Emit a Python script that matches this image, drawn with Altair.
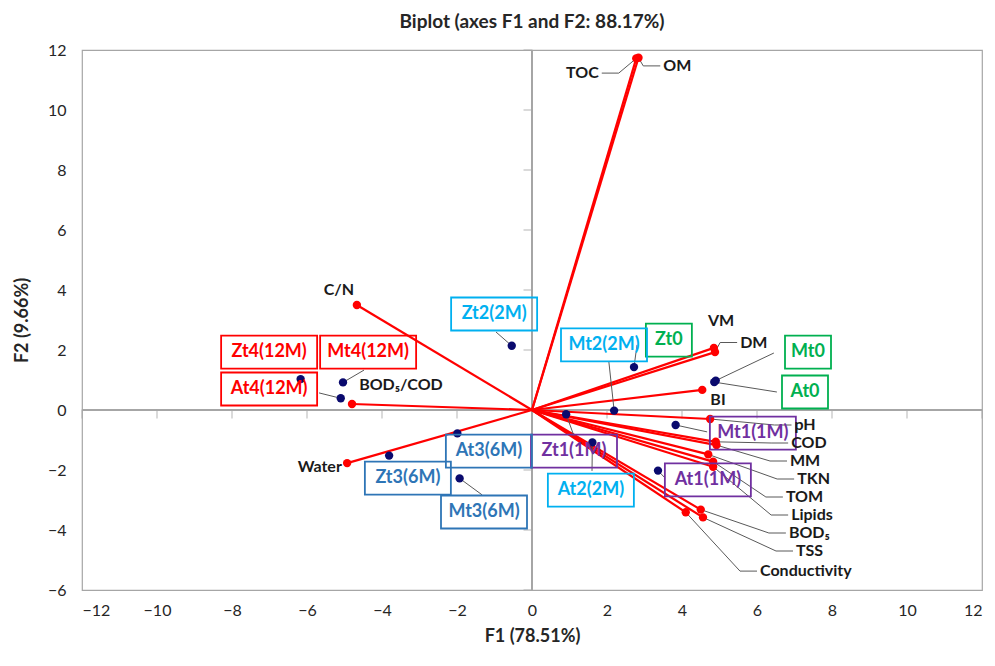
import altair as alt
import pandas as pd

# ---------------- data ----------------
var_names = ["TOC", "OM", "C/N", "BOD₅/COD", "Water", "VM", "DM", "BI", "pH", "COD",
             "MM", "TKN", "TOM", "Lipids", "BOD₅", "TSS", "Conductivity"]
var_f1 = [2.78, 2.84, -4.67, -4.80, -4.93, 4.85, 4.88, 4.54, 4.75, 4.90,
          4.92, 4.70, 4.83, 4.83, 4.50, 4.56, 4.10]
var_f2 = [11.72, 11.74, 3.50, 0.20, -1.77, 2.07, 1.93, 0.67, -0.30, -1.06,
          -1.17, -1.48, -1.72, -1.89, -3.32, -3.58, -3.41]
# label anchor positions (F1, F2) and alignment
var_lab_f1 = [1.78, 3.50, -5.15, -4.61, -5.07, 5.04, 5.55, 4.96, 7.00, 6.91,
              6.88, 7.07, 6.77, 6.91, 6.85, 7.04, 6.08]
var_lab_f2 = [11.23, 11.47, 4.00, 0.83, -1.90, 2.97, 2.25, 0.33, -0.50, -1.10,
              -1.70, -2.30, -2.90, -3.50, -4.10, -4.70, -5.37]
var_lab_align = ["right", "left", "center", "left", "right", "center", "left", "center",
                 "left", "left", "left", "left", "left", "left", "left", "left", "left"]
var_has_leader = [True, True, False, False, False, False, True, False,
                  True, True, True, True, True, True, True, True, True]

obs_names = ["Zt0", "Mt0", "At0", "Zt1(1M)", "Mt1(1M)", "At1(1M)", "Zt2(2M)", "Mt2(2M)",
             "At2(2M)", "Zt3(6M)", "Mt3(6M)", "At3(6M)", "Zt4(12M)", "Mt4(12M)", "At4(12M)"]
obs_f1 = [2.72, 4.90, 4.86, 0.91, 3.83, 3.36, -0.54, 2.19, 1.61, -3.81, -1.93, -1.99,
          -6.17, -5.04, -5.10]
obs_f2 = [1.43, 0.98, 0.93, -0.14, -0.50, -2.02, 2.14, -0.02, -1.08, -1.52, -2.28, -0.78,
          1.03, 0.92, 0.39]
obs_group = ["t0", "t0", "t0", "1M", "1M", "1M", "2M", "2M", "2M", "6M", "6M", "6M",
             "12M", "12M", "12M"]
obs_lab_f1 = [3.65, 7.36, 7.28, 1.12, 5.89, 4.69, -1.01, 1.92, 1.57, -3.31, -1.28, -1.15,
              -7.01, -4.37, -7.01]
obs_lab_f2 = [2.33, 1.93, 0.60, -1.37, -0.77, -2.33, 3.20, 2.17, -2.67, -2.27, -3.40, -1.37,
              1.93, 1.93, 0.70]
# leader end points near the boxes (None = no leader)
obs_lead_f1 = [2.80, 6.45, 6.53, 1.12, 4.67, 3.55, -0.96, 2.05, 1.60, None, -1.33, None,
               None, -4.48, -5.68]
obs_lead_f2 = [2.17, 1.90, 0.60, -0.87, -0.73, -2.27, 2.60, 1.60, -2.03, None, -2.83, None,
               None, 1.33, 0.57]

group_names = ["t0", "1M", "2M", "6M", "12M"]
group_colors = ["#00B050", "#7030A0", "#00B0F0", "#2E75B6", "#FF0000"]

x_ticks = list(range(-12, 13, 2))
y_ticks = list(range(-6, 13, 2))

PX_X = 37.5  # pixels per F1 unit
PX_Y = 30.0  # pixels per F2 unit
FONT = "Lato"

# ---------------- tables ----------------
var_df = pd.DataFrame({"name": var_names, "f1": var_f1, "f2": var_f2,
                       "lx": var_lab_f1, "ly": var_lab_f2, "align": var_lab_align})
var_df["zero"] = 0.0

lead_rows = []
for i, n in enumerate(var_names):
    if not var_has_leader[i]:
        continue
    d = 1 if var_lab_align[i] == "left" else -1
    end_x = var_lab_f1[i] - d * 3 / PX_X
    elb_x = var_lab_f1[i] - d * 20 / PX_X
    pts = [(var_f1[i], var_f2[i]), (elb_x, var_lab_f2[i]), (end_x, var_lab_f2[i])]
    for k, (a, b) in enumerate(pts):
        lead_rows.append({"id": "v" + n, "o": k, "x": a, "y": b})
for i, n in enumerate(obs_names):
    if obs_lead_f1[i] is None:
        continue
    pts = [(obs_f1[i], obs_f2[i]), (obs_lead_f1[i], obs_lead_f2[i])]
    for k, (a, b) in enumerate(pts):
        lead_rows.append({"id": "o" + n, "o": k, "x": a, "y": b})
lead_df = pd.DataFrame(lead_rows)

obs_df = pd.DataFrame({"name": obs_names, "f1": obs_f1, "f2": obs_f2, "group": obs_group,
                       "lx": obs_lab_f1, "ly": obs_lab_f2})
obs_df["hw"] = (obs_df["name"].str.len() * 10 + 16) / 2 / PX_X
obs_df["hh"] = 16.5 / PX_Y
obs_df["bx1"] = obs_df["lx"] - obs_df["hw"]
obs_df["bx2"] = obs_df["lx"] + obs_df["hw"]
obs_df["by1"] = obs_df["ly"] - obs_df["hh"]
obs_df["by2"] = obs_df["ly"] + obs_df["hh"]

xt_df = pd.DataFrame({"v": x_ticks, "zero": 0.0})
yt_df = pd.DataFrame({"v": y_ticks, "zero": 0.0})

# ---------------- scales / axes ----------------
xs = alt.Scale(domain=[-12, 12], nice=False, zero=False)
ys = alt.Scale(domain=[-6, 12], nice=False, zero=False)
color_scale = alt.Scale(domain=group_names, range=group_colors)

x_axis = alt.Axis(values=x_ticks, grid=False, ticks=False, domain=False,
                  labelFont=FONT, labelFontSize=16, labelColor="#262626", labelPadding=12,
                  title="F1 (78.51%)", titleFont=FONT, titleFontSize=18, titleFontWeight="bold",
                  titleColor="#262626", titlePadding=9)
y_axis = alt.Axis(values=y_ticks, grid=False, ticks=False, domain=False,
                  labelFont=FONT, labelFontSize=16, labelColor="#262626", labelPadding=16,
                  title="F2 (9.66%)", titleFont=FONT, titleFontSize=18, titleFontWeight="bold",
                  titleColor="#262626", titlePadding=16)

base_axes = alt.Chart(xt_df).mark_point(opacity=0).encode(
    x=alt.X("v:Q", scale=xs, axis=x_axis),
    y=alt.Y("zero:Q", scale=ys, axis=y_axis),
)

# zero lines
hline = alt.Chart(xt_df).mark_rule(color="#A6A6A6", strokeWidth=1.2).encode(
    y=alt.datum(0), x=alt.value(0), x2=alt.value(900))
vline = alt.Chart(xt_df).mark_rule(color="#A6A6A6", strokeWidth=1.2).encode(
    x=alt.datum(0), y=alt.value(0), y2=alt.value(540))
xticks_m = alt.Chart(xt_df).mark_tick(color="#A6A6A6", size=9, thickness=1.2,
                                      orient="vertical", yOffset=4).encode(
    x=alt.X("v:Q", scale=xs), y=alt.Y("zero:Q", scale=ys))
yticks_m = alt.Chart(yt_df).mark_tick(color="#A6A6A6", size=9, thickness=1.2,
                                      orient="horizontal", xOffset=-4).encode(
    y=alt.Y("v:Q", scale=ys), x=alt.X("zero:Q", scale=xs))

# vectors
vectors = alt.Chart(var_df).mark_rule(color="#FF0000", strokeWidth=2.2).encode(
    x=alt.X("zero:Q", scale=xs), y=alt.Y("zero:Q", scale=ys),
    x2="f1:Q", y2="f2:Q")
var_pts = alt.Chart(var_df).mark_circle(color="#FF0000", size=70, opacity=1).encode(
    x=alt.X("f1:Q", scale=xs), y=alt.Y("f2:Q", scale=ys))

leaders = alt.Chart(lead_df).mark_line(color="#595959", strokeWidth=1).encode(
    x=alt.X("x:Q", scale=xs), y=alt.Y("y:Q", scale=ys), detail="id:N", order="o:Q")

obs_pts = alt.Chart(obs_df).mark_circle(color="#0A0A6E", size=70, opacity=1).encode(
    x=alt.X("f1:Q", scale=xs), y=alt.Y("f2:Q", scale=ys))

boxes = alt.Chart(obs_df).mark_rect(fillOpacity=0, strokeWidth=1.8).encode(
    x=alt.X("bx1:Q", scale=xs), x2="bx2:Q",
    y=alt.Y("by1:Q", scale=ys), y2="by2:Q",
    stroke=alt.Stroke("group:N", scale=color_scale, legend=None))
box_text = alt.Chart(obs_df).mark_text(font=FONT, fontSize=18, fontWeight="bold",
                                       baseline="middle", align="center").encode(
    x=alt.X("lx:Q", scale=xs), y=alt.Y("ly:Q", scale=ys), text="name:N",
    color=alt.Color("group:N", scale=color_scale, legend=None))

var_text_layers = []
for al in ["left", "right", "center"]:
    var_text_layers.append(
        alt.Chart(var_df[var_df["align"] == al]).mark_text(
            font=FONT, fontSize=16, fontWeight="bold", color="#1A1A1A",
            baseline="middle", align=al).encode(
            x=alt.X("lx:Q", scale=xs), y=alt.Y("ly:Q", scale=ys), text="name:N"))

chart = alt.layer(
    base_axes, hline, vline, xticks_m, yticks_m, vectors, leaders, var_pts, obs_pts,
    boxes, box_text, *var_text_layers
).properties(
    width=900, height=540,
    title=alt.Title("Biplot (axes F1 and F2: 88.17%)", font=FONT, fontSize=19,
                    fontWeight="bold", color="#262626", anchor="middle", offset=10),
    autosize=alt.AutoSizeParams(type="none"),
    padding={"left": 74, "top": 42, "right": 5, "bottom": 60},
).configure_view(stroke="#A6A6A6", strokeWidth=1.2)

chart.save("out.html", embed_options={"renderer": "svg", "actions": False})
